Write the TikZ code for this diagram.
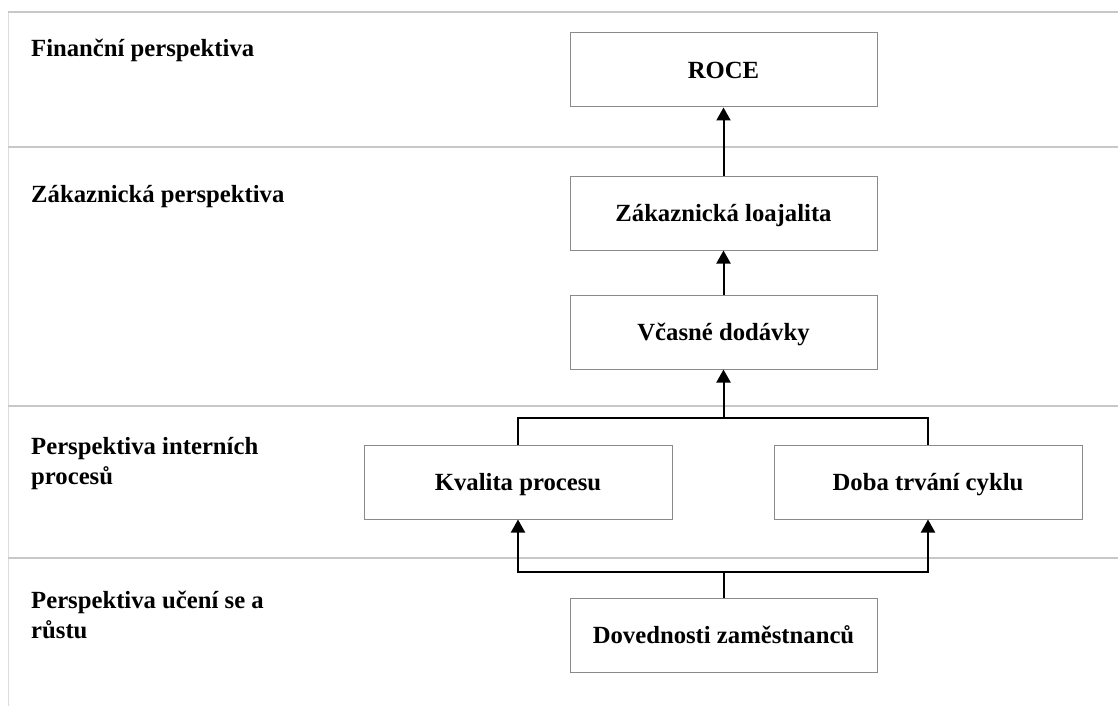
\documentclass[tikz,border=0pt]{standalone}
\usepackage{fontspec}
\setmainfont{Liberation Serif}
\usetikzlibrary{arrows.meta}
\definecolor{rule}{HTML}{C8C8C8}
\definecolor{vrule}{HTML}{DDDDDD}
\definecolor{boxline}{HTML}{8A8A8A}
\begin{document}
\begin{tikzpicture}[x=1pt,y=-1pt,
  txt/.style={font=\fontsize{24.7}{30}\selectfont\bfseries},
  lbl/.style={txt,anchor=base west,inner sep=0pt,align=left},
  kpi/.style={txt,draw=boxline,line width=1pt,fill=white,inner sep=0pt,
    text height=16.4pt,text depth=0pt,minimum height=74pt},
  wide/.style={kpi,minimum width=307pt},
  band/.style={draw=rule,line width=1.2pt},
  conn/.style={draw=black,line width=2pt},
  arr/.style={conn,-{Triangle[length=13pt,width=14pt]}}]
\useasboundingbox (0,0) rectangle (1118,706);
% bands
\draw[draw=vrule,line width=1pt] (8,12) -- (8,706);
\draw[band] (8,12) -- (1118,12);
\draw[band] (8,147) -- (1118,147);
\draw[band] (8,406) -- (1118,406);
\draw[band] (8,558) -- (1118,558);
% labels (base anchor = baseline of last line)
\node[lbl] (l1) at (31,57) {Finanční perspektiva};
\node[lbl] (l2) at (31,202) {Zákaznická perspektiva};
\node[lbl] (l3) at (31,484) {Perspektiva interních\\procesů};
\node[lbl] (l4) at (31,638) {Perspektiva učení se a\\růstu};
% boxes
\node[wide] (roce) at (723.5,70) {ROCE};
\node[wide] (loaj) at (723.5,213) {Zákaznická loajalita};
\node[wide] (vcas) at (723.5,332) {Včasné dodávky};
\node[kpi,minimum width=308pt] (kval) at (518,482) {Kvalita procesu};
\node[kpi,minimum width=308pt] (doba) at (928,482) {Doba trvání cyklu};
\node[wide] (dov) at (723.5,635.5) {Dovednosti zaměstnanců};
% connectors
\coordinate (jt) at (723.5,418);
\coordinate (jb) at (723.5,572);
\draw[arr] (loaj.north) -- (roce.south);
\draw[arr] (vcas.north) -- (loaj.south);
\draw[conn] (kval.north) |- (jt) -| (doba.north);
\draw[arr] (jt) -- (vcas.south);
\draw[conn] (dov.north) -- (jb);
\draw[arr] (jb) -| (kval.south);
\draw[arr] (jb) -| (doba.south);
\end{tikzpicture}
\end{document}
